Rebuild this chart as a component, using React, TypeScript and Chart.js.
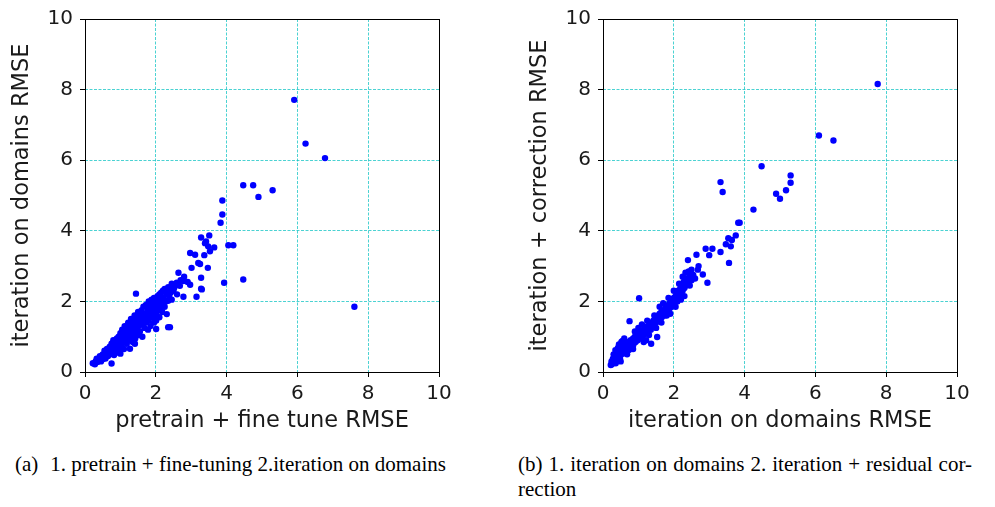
import React, { useEffect, useRef } from "react";
import { Chart, registerables } from "chart.js";

Chart.register(...registerables);

const axisTicks = [0, 2, 4, 6, 8, 10];

const plotAXLabel = "pretrain + fine tune RMSE";
const plotAYLabel = "iteration on domains RMSE";
const plotBXLabel = "iteration on domains RMSE";
const plotBYLabel = "iteration + correction RMSE";

const captionA = "1. pretrain + fine-tuning 2.iteration on domains";
const captionBLine1 = "(b) 1. iteration on domains 2. iteration + residual cor-";
const captionBLine2 = "rection";

// (pretrain + fine tune RMSE, iteration on domains RMSE)
const plotAPoints: [number, number][] = [
  [0.22, 0.25], [0.28, 0.22], [0.3, 0.3], [0.35, 0.28], [0.33, 0.38], [0.4, 0.35], [0.42, 0.45],
  [0.45, 0.3], [0.48, 0.42], [0.5, 0.5], [0.5, 0.36], [0.55, 0.45], [0.55, 0.6], [0.58, 0.38],
  [0.6, 0.52], [0.62, 0.65], [0.65, 0.45], [0.68, 0.58], [0.7, 0.72], [0.7, 0.5], [0.72, 0.62],
  [0.75, 0.24], [0.75, 0.8], [0.78, 0.55], [0.8, 0.68], [0.8, 0.9], [0.82, 0.48], [0.85, 0.75],
  [0.85, 0.6], [0.88, 0.85], [0.9, 0.95], [0.9, 0.7], [0.92, 0.55], [0.95, 0.82], [0.95, 1.0],
  [0.98, 0.65], [1.0, 0.9], [1.0, 1.1], [1.0, 0.52], [1.02, 0.75], [1.05, 1.0], [1.05, 1.2],
  [1.08, 0.85], [1.1, 1.1], [1.1, 0.65], [1.12, 1.3], [1.15, 0.95], [1.15, 1.15], [1.18, 0.8],
  [1.2, 1.25], [1.2, 1.05], [1.22, 1.4], [1.25, 0.9], [1.25, 1.2], [1.28, 1.35], [1.3, 1.0],
  [1.3, 1.5], [1.32, 1.15], [1.35, 0.85], [1.35, 1.3], [1.38, 1.45], [1.4, 1.1], [1.4, 1.6],
  [1.42, 0.95], [1.44, 2.22], [1.45, 1.25], [1.45, 1.4], [1.48, 1.55], [1.5, 1.05], [1.5, 1.7],
  [1.27, 0.66], [1.41, 0.8], [1.52, 1.3], [1.55, 1.45], [1.55, 1.15], [1.58, 1.6], [1.6, 1.75],
  [1.6, 1.35], [1.62, 1.0], [1.65, 1.5], [1.65, 1.85], [1.68, 1.25], [1.7, 1.65], [1.72, 1.4],
  [1.72, 1.9], [1.75, 1.55], [1.78, 1.75], [1.78, 1.2], [1.8, 2.0], [1.8, 1.45], [1.82, 1.65],
  [1.85, 1.85], [1.85, 1.3], [1.88, 2.05], [1.9, 1.55], [1.9, 1.75], [1.92, 1.95], [1.95, 1.4],
  [1.95, 2.1], [1.98, 1.65], [2.0, 1.85], [2.0, 2.05], [2.01, 1.46], [2.01, 1.22], [2.02, 1.6],
  [2.05, 2.15], [2.05, 1.75], [2.08, 1.95], [2.1, 2.2], [2.1, 1.55], [2.12, 1.85], [2.15, 2.05],
  [2.15, 2.25], [2.18, 1.7], [2.2, 1.95], [2.2, 2.3], [2.22, 2.1], [2.25, 1.85], [2.25, 2.35],
  [2.28, 2.0], [2.3, 2.2], [2.31, 2.25], [2.31, 1.64], [2.35, 2.02], [2.35, 1.27], [2.4, 1.27],
  [2.35, 2.4], [2.38, 2.15], [2.4, 2.37], [2.42, 2.25], [2.45, 2.5], [2.45, 2.05], [2.5, 2.3],
  [2.52, 2.39], [2.55, 2.45], [2.59, 2.53], [2.64, 2.81], [2.68, 2.44], [2.6, 2.2], [2.7, 2.6],
  [2.78, 2.58], [2.78, 2.13], [2.8, 2.7], [2.9, 2.55], [2.97, 2.47], [2.97, 3.37], [3.01, 2.95],
  [3.11, 3.32], [3.15, 2.13], [3.2, 3.09], [3.28, 2.67], [3.28, 2.36], [3.28, 3.81], [3.37, 3.31],
  [3.42, 3.7], [3.47, 2.95], [3.48, 3.56], [3.51, 3.87], [3.53, 3.42], [3.65, 3.53], [3.39, 3.65],
  [3.25, 3.06], [3.3, 2.34], [3.83, 4.23], [3.88, 4.46], [3.88, 4.86], [3.93, 2.53], [4.05, 3.59],
  [4.19, 3.59], [4.47, 2.62], [4.47, 5.29], [4.75, 5.29], [4.9, 4.96], [5.3, 5.15], [5.91, 7.71],
  [6.23, 6.47], [6.78, 6.06], [7.61, 1.85],
];

// (iteration on domains RMSE, iteration + correction RMSE)
const plotBPoints: [number, number][] = [
  [0.22, 0.2], [0.24, 0.3], [0.25, 0.22], [0.28, 0.38], [0.3, 0.28], [0.32, 0.45], [0.35, 0.35],
  [0.36, 0.25], [0.38, 0.5], [0.4, 0.4], [0.42, 0.32], [0.44, 0.55], [0.45, 0.45], [0.48, 0.38],
  [0.5, 0.6], [0.5, 0.48], [0.52, 0.7], [0.55, 0.52], [0.56, 0.62], [0.6, 0.55], [0.6, 0.72],
  [0.62, 0.65], [0.65, 0.8], [0.66, 0.58], [0.7, 0.7], [0.72, 0.85], [0.73, 0.62], [0.75, 1.44],
  [0.75, 0.75], [0.78, 0.9], [0.8, 0.7], [0.82, 0.82], [0.85, 0.95], [0.86, 0.78], [0.88, 0.88],
  [0.9, 1.0], [0.92, 0.85], [0.95, 0.95], [0.96, 1.05], [0.98, 0.9], [1.0, 1.0], [1.02, 2.09],
  [1.02, 1.1], [1.05, 0.95], [1.06, 1.05], [1.08, 1.15], [1.1, 1.0], [1.12, 1.1], [1.14, 1.2],
  [1.15, 1.05], [1.18, 1.15], [1.2, 1.25], [1.22, 0.9], [1.22, 1.1], [1.25, 1.2], [1.26, 1.3],
  [1.28, 1.15], [1.3, 1.25], [1.32, 1.35], [1.35, 1.2], [1.36, 0.8], [1.36, 1.3], [1.38, 1.4],
  [1.4, 1.28], [1.42, 1.45], [1.45, 1.35], [1.48, 1.5], [1.5, 1.4], [1.53, 0.99], [1.52, 1.55],
  [1.55, 1.45], [1.56, 1.6], [1.6, 1.5], [1.6, 1.65], [1.62, 1.58], [1.65, 1.7], [1.66, 1.55],
  [1.7, 1.65], [1.72, 1.75], [1.74, 1.6], [1.76, 1.8], [1.78, 1.7], [1.8, 1.85], [1.82, 1.72],
  [1.85, 1.9], [1.86, 1.78], [1.88, 1.95], [1.9, 1.82], [1.92, 2.0], [1.95, 1.88], [1.96, 2.05],
  [1.98, 1.95], [2.0, 2.1], [2.0, 1.9], [2.02, 2.0], [2.05, 2.15], [2.06, 2.05], [2.1, 2.2],
  [2.1, 2.0], [2.12, 2.3], [2.15, 2.12], [2.18, 2.35], [2.2, 2.2], [2.22, 2.45], [2.25, 2.3],
  [2.28, 2.55], [2.3, 2.38], [2.33, 2.81], [2.35, 2.58], [2.35, 2.45], [2.38, 2.65], [2.4, 3.17],
  [2.4, 2.5], [2.45, 2.7], [2.5, 2.6], [2.55, 2.75], [2.64, 3.32], [2.68, 2.9], [2.82, 2.76],
  [2.95, 2.53], [2.9, 3.49], [3.09, 3.49], [3.0, 3.31], [3.32, 3.4], [3.56, 3.09], [3.32, 5.38],
  [3.38, 5.1], [3.47, 3.62], [3.54, 3.79], [3.61, 3.56], [3.64, 3.74], [3.75, 3.87], [3.82, 4.23],
  [3.86, 4.23], [4.25, 4.6], [4.48, 5.83], [4.89, 5.05], [5.0, 4.91], [5.17, 5.15], [5.3, 5.36],
  [5.3, 5.57], [6.1, 6.7], [6.51, 6.56], [7.76, 8.16],
  [0.3, 0.5], [0.35, 0.62], [0.42, 0.68], [0.45, 0.78], [0.52, 0.85], [0.55, 0.88], [0.6, 0.95],
  [0.5, 0.3], [0.68, 0.5], [0.85, 0.65], [0.9, 1.15], [1.0, 1.25], [1.1, 1.35], [1.15, 0.85],
  [1.25, 1.45], [1.3, 1.05], [1.45, 1.6], [1.5, 1.25], [1.6, 1.85], [1.65, 1.4], [1.7, 1.95],
  [1.8, 1.6], [1.85, 2.1], [1.9, 1.65], [2.0, 2.3], [2.05, 1.85], [2.15, 2.5], [2.2, 2.05],
  [2.25, 2.7], [2.3, 2.15], [2.45, 2.45], [2.5, 2.9], [2.6, 2.65], [2.42, 2.85], [2.7, 3.0],
];

const framePlugin = {
  id: "frame",
  afterDraw(chart: any) {
    const { ctx, chartArea } = chart;
    const { left, top, right, bottom } = chartArea;
    ctx.save();
    ctx.strokeStyle = "#000";
    ctx.lineWidth = 1;
    ctx.strokeRect(Math.round(left) + 0.5, Math.round(top) + 0.5, Math.round(right - left), Math.round(bottom - top));
    ctx.restore();
  },
};

function scaleOptions(axis: "x" | "y", label: string) {
  return {
    type: "linear",
    min: 0,
    max: 10,
    afterBuildTicks: (s: any) => {
      s.ticks = axisTicks.map((v) => ({ value: v }));
    },
    afterFit: (s: any) => {
      if (axis === "x") s.height = 68;
      else s.width = 85;
    },
    grid: {
      color: "rgba(0,191,191,0.7)",
      lineWidth: 1,
      tickColor: "#000",
      tickLength: 5,
      tickWidth: 1,
      tickBorderDash: [],
    },
    border: { display: false, dash: [3, 1.5] },
    ticks: {
      color: "#1a1a1a",
      font: { size: 20, family: "DejaVu Sans" },
      padding: axis === "x" ? 5 : 7,
      maxRotation: 0,
      autoSkip: false,
    },
    title: {
      display: true,
      text: label,
      color: "#1a1a1a",
      font: { size: 22.5, family: "DejaVu Sans" },
      padding: axis === "x" ? { top: 0, bottom: 5.5 } : { top: 9, bottom: 0 },
    },
  };
}

function ScatterPanel({ points, xLabel, yLabel, left }: { points: [number, number][]; xLabel: string; yLabel: string; left: number }) {
  const ref = useRef<HTMLCanvasElement | null>(null);
  useEffect(() => {
    if (!ref.current) return;
    const chart = new Chart(ref.current, {
      type: "scatter",
      data: {
        datasets: [
          {
            data: points.map(([x, y]) => ({ x, y })),
            backgroundColor: "#0000ff",
            borderWidth: 0,
            pointRadius: 3.2,
            pointHoverRadius: 3.2,
          },
        ],
      },
      options: {
        animation: false,
        responsive: false,
        devicePixelRatio: 1,
        layout: { padding: { top: 15, right: 21, left: 0, bottom: 0 } },
        plugins: { legend: { display: false }, tooltip: { enabled: false } },
        scales: {
          x: scaleOptions("x", xLabel) as any,
          y: scaleOptions("y", yLabel) as any,
        },
      },
      plugins: [framePlugin],
    });
    return () => chart.destroy();
  }, []);
  return (
    <canvas
      ref={ref}
      width={460}
      height={440}
      style={{ position: "absolute", left, top: 0, width: 460, height: 440, display: "block" }}
    />
  );
}

const captionStyle: React.CSSProperties = {
  position: "absolute",
  fontFamily: '"Liberation Serif", "Times New Roman", serif',
  fontSize: 21,
  lineHeight: "25px",
  color: "#000",
  whiteSpace: "nowrap",
};

export default function App() {
  return (
    <div style={{ position: "fixed", left: 0, top: 0, width: 995, height: 507, background: "#fff", overflow: "hidden" }}>
      <ScatterPanel points={plotAPoints} xLabel={plotAXLabel} yLabel={plotAYLabel} left={0} />
      <ScatterPanel points={plotBPoints} xLabel={plotBXLabel} yLabel={plotBYLabel} left={518} />
      <div style={{ ...captionStyle, left: 15, top: 452 }}>
        <span style={{ marginRight: 12 }}>(a)</span>
        {captionA}
      </div>
      <div style={{ ...captionStyle, left: 518, top: 452, width: 454 }}>
        <div style={{ textAlign: "justify", textAlignLast: "justify", whiteSpace: "normal" }}>{captionBLine1}</div>
        <div>{captionBLine2}</div>
      </div>
    </div>
  );
}
